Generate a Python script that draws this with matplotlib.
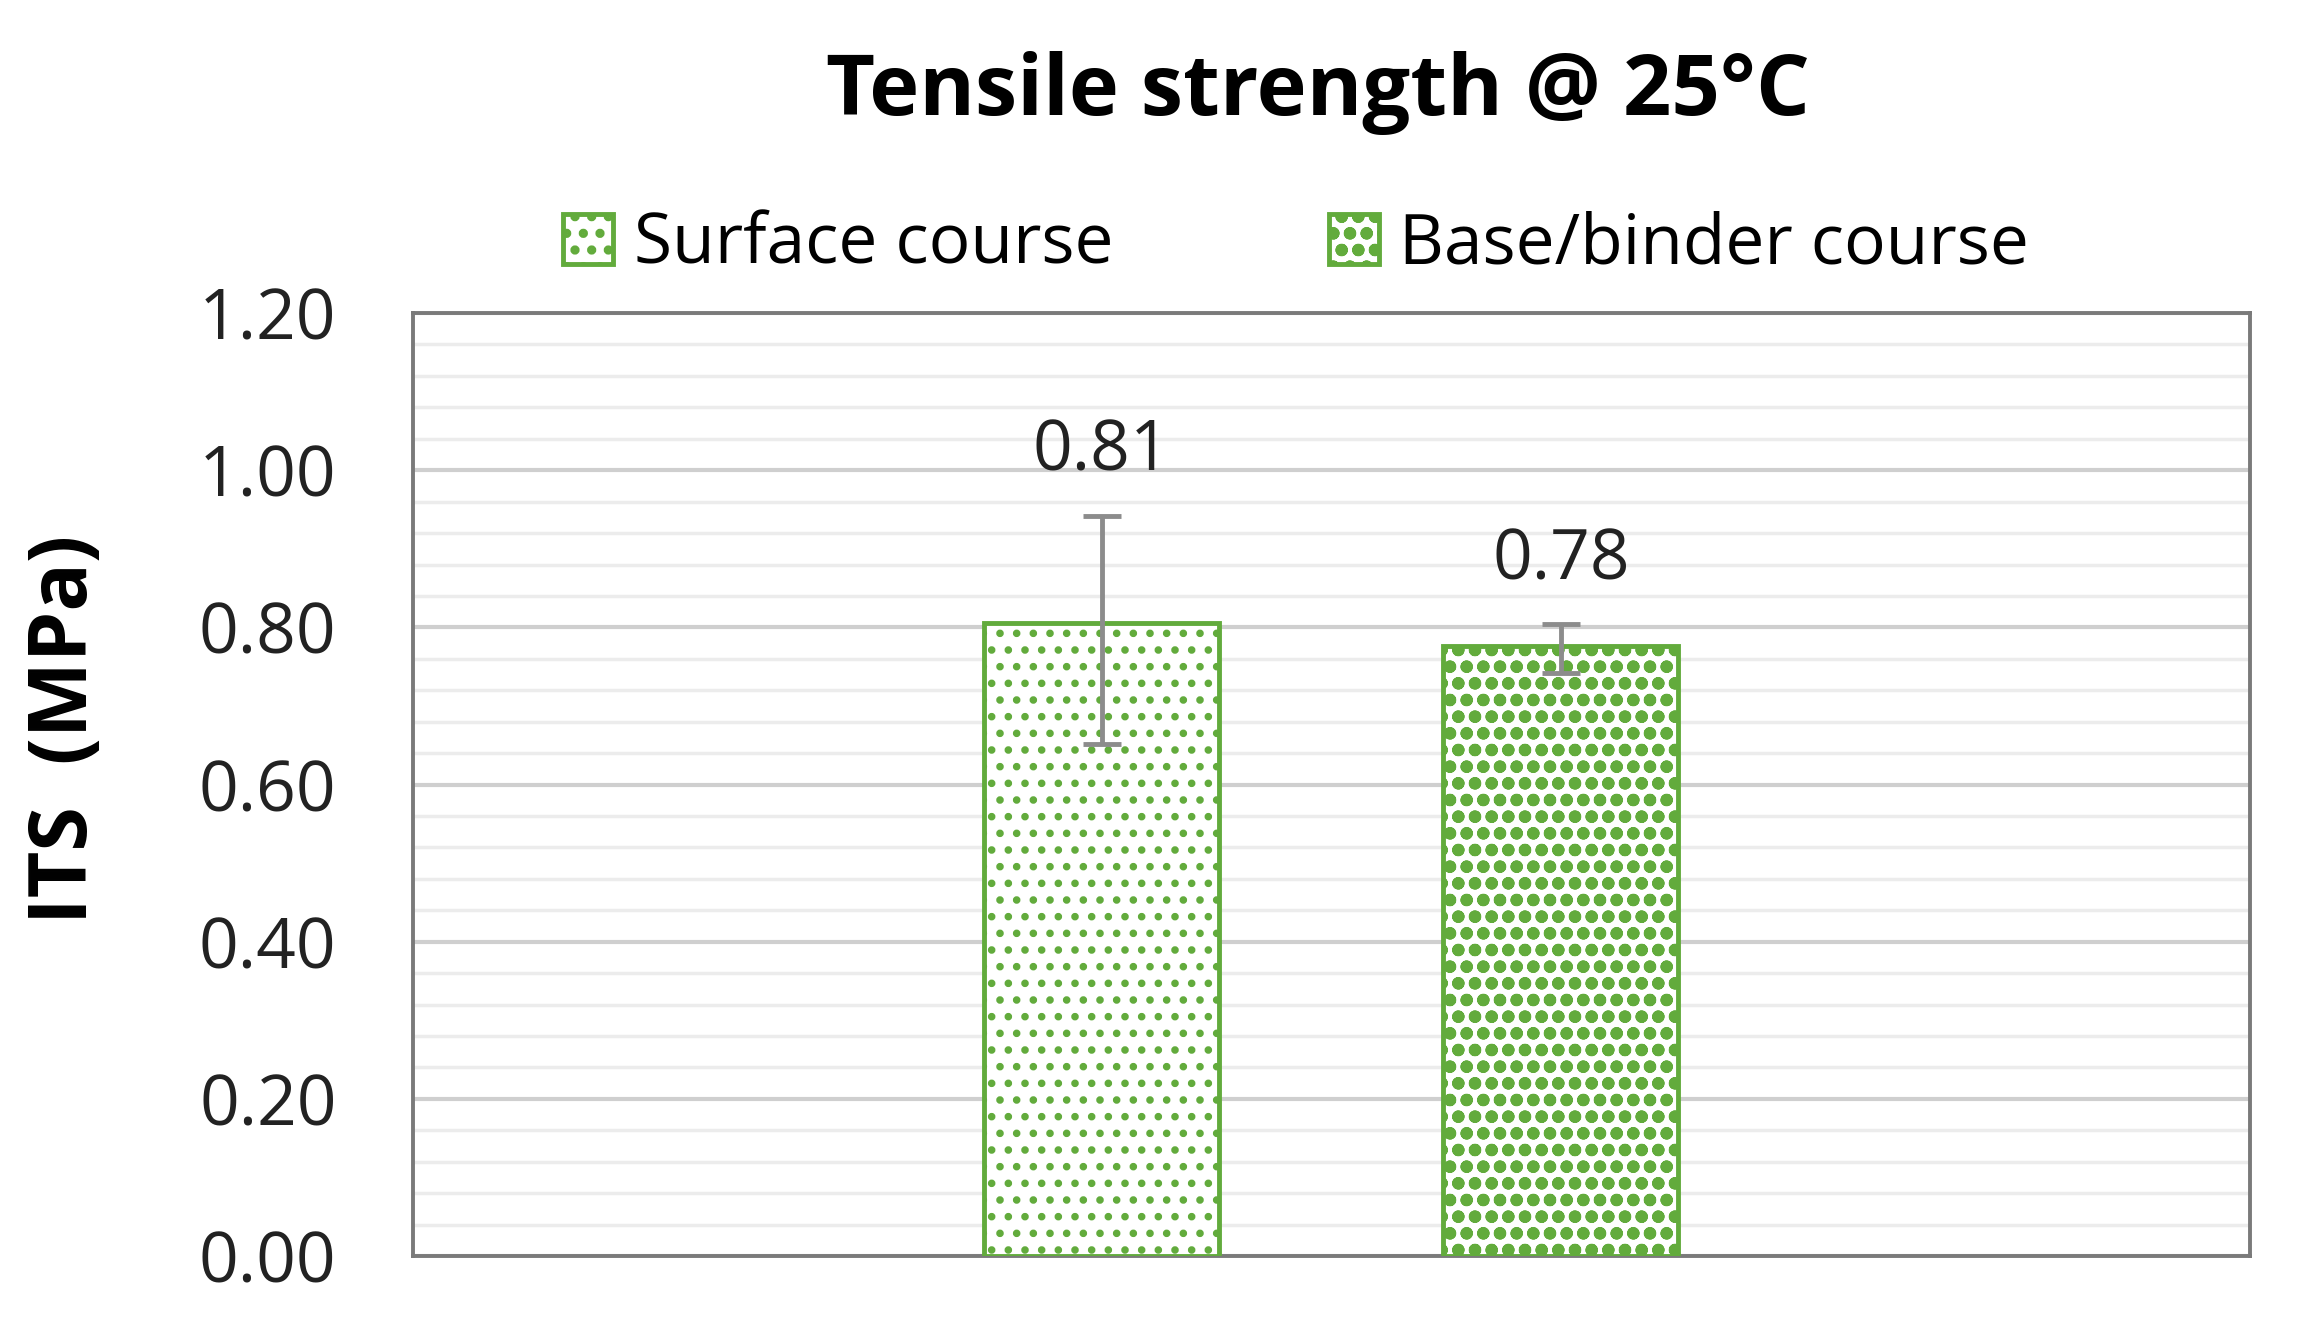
import numpy as np
import matplotlib
matplotlib.use("Agg")
import matplotlib.pyplot as plt
from matplotlib.ticker import MultipleLocator

# data
series = ["Surface course", "Base/binder course"]
its = [0.806, 0.776]
err_low = [0.154, 0.034]
err_high = [0.136, 0.028]

hatches = [".", "o"]
hatch_lw = [3.0, 4.2]
green = "#62AB3C"

plt.rcParams["font.family"] = ["Open Sans", "DejaVu Sans"]

fig = plt.figure(figsize=(23.12, 13.32), dpi=100)
ax = fig.add_axes([0.1786, 0.057, 0.7944, 0.708])

width = 0.128
offsets = [-0.125, 0.125]
handles = []
for i in range(len(series)):
    plt.rcParams["hatch.linewidth"] = hatch_lw[i]
    plt.rcParams["hatch.color"] = green
    b = ax.bar(offsets[i], its[i], width, color="white", edgecolor=green,
               hatch=hatches[i], linewidth=3.5, label=series[i], zorder=3)
    handles.append(b)
    ax.errorbar(offsets[i], its[i], yerr=[[err_low[i]], [err_high[i]]],
                fmt="none", ecolor="#8c8c8c", elinewidth=3.5, capsize=14,
                capthick=3.5, zorder=4)
    ax.annotate(f"{its[i]:.2f}", (offsets[i], its[i] + err_high[i]),
                xytext=(0, 20), textcoords="offset points", ha="center",
                va="bottom", fontsize=50, color="#222222")

ax.set_xlim(-0.5, 0.5)
ax.set_ylim(0, 1.2)
ax.yaxis.set_minor_locator(MultipleLocator(0.04))
yt = np.arange(0, 1.21, 0.2)
ax.set_yticks(yt)
ax.set_yticklabels([f"{v:.2f}" for v in yt])
ax.tick_params(axis="y", which="both", length=0, labelsize=50, pad=55,
               labelcolor="#222222")
ax.set_xticks([])
ax.grid(axis="y", which="major", color="#cfcfcf", linewidth=3, zorder=0)
ax.grid(axis="y", which="minor", color="#ececec", linewidth=2.5, zorder=0)
ax.set_axisbelow(True)
for s in ax.spines.values():
    s.set_color("#7a7a7a")
    s.set_linewidth(2.8)

ax.set_ylabel("ITS  (MPa)", fontsize=58, fontweight="bold")
ax.yaxis.set_label_coords(-0.167, 0.558)
fig.suptitle("Tensile strength @ 25°C", fontsize=61, fontweight="bold",
             x=0.57, y=0.962)
fig.legend(handles=handles, labels=series, loc="center",
           bbox_to_anchor=(0.5606, 0.816), ncol=2, frameon=False,
           fontsize=50, handlelength=0.72, handleheight=0.72,
           handletextpad=0.3, columnspacing=3.1)

fig.savefig("out.png", dpi=100)
